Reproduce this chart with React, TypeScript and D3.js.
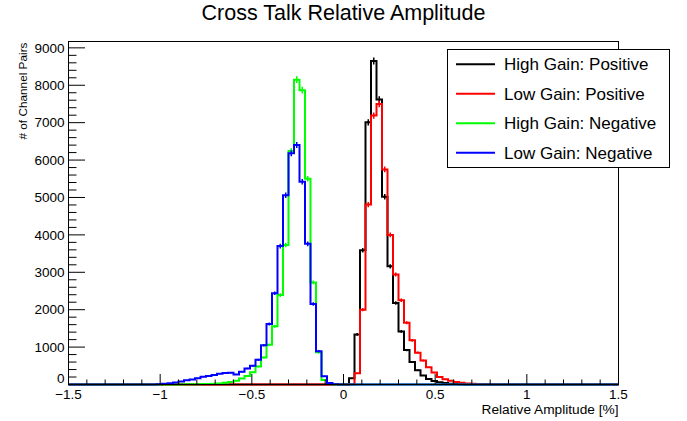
import React from "react";
import * as d3 from "d3";

// Histogram binning: 100 bins from -1.5 to 1.5
const binLow = -1.5;
const binWidth = 0.03;
const nBins = 100;

// Series: first non-empty bin index and bin counts
const hgPosFirst = 51;
const hgPosCounts = [170, 1340, 3590, 7010, 8650, 7620, 5020, 3160, 2180, 1420, 920, 600, 380, 240, 150, 95, 60, 38, 22, 12, 6, 3];

const lgPosFirst = 51;
const lgPosCounts = [10, 300, 2000, 4810, 7190, 7500, 5750, 4000, 2940, 2250, 1650, 1180, 850, 640, 460, 320, 200, 140, 100, 65, 45, 30, 20, 12, 8, 4, 2];

const hgNegFirst = 20;
const hgNegCounts = [3, 5, 8, 10, 12, 15, 20, 30, 45, 70, 100, 160, 230, 330, 480, 720, 1060, 1560, 2390, 3730, 6240, 8150, 7870, 5500, 2730, 860, 120, 20];

const lgNegFirst = 16;
const lgNegCounts = [5, 18, 36, 55, 80, 115, 135, 170, 205, 225, 255, 290, 310, 315, 270, 340, 430, 500, 660, 1050, 1620, 2440, 3700, 5060, 6180, 6400, 5420, 3760, 2150, 890, 220, 40, 5];

const seriesNames = ["High Gain: Positive", "Low Gain: Positive", "High Gain: Negative", "Low Gain: Negative"];
const seriesColors = ["#000000", "#ff0000", "#00ff00", "#0000ff"];
const seriesFirst = [hgPosFirst, lgPosFirst, hgNegFirst, lgNegFirst];
const seriesCounts = [hgPosCounts, lgPosCounts, hgNegCounts, lgNegCounts];

const xMajorTicks = [-1.5, -1, -0.5, 0, 0.5, 1, 1.5];
const yMajorTicks = [0, 1000, 2000, 3000, 4000, 5000, 6000, 7000, 8000, 9000];

const titleText = "Cross Talk Relative Amplitude";
const xTitle = "Relative Amplitude [%]";
const yTitle = "# of Channel Pairs";

const W = 687;
const H = 421;
const frame = { left: 68.5, right: 618.5, top: 41.5, bottom: 384.5 };
const yMax = 9170;
const FONT = "'Liberation Sans', Arial, Helvetica, sans-serif";

function fullCounts(first: number, counts: number[]): number[] {
  const arr = new Array(nBins).fill(0);
  counts.forEach((c, i) => {
    arr[first + i] = c;
  });
  return arr;
}

export default function App() {
  const x = d3.scaleLinear().domain([binLow, binLow + nBins * binWidth]).range([frame.left, frame.right]);
  const y = d3.scaleLinear().domain([0, yMax]).range([frame.bottom, frame.top]);

  const xMinor = d3.range(-15, 16).map((d) => d / 10);
  const yMinor = d3.range(0, 9200, 200);

  const stepPath = (vals: number[]) => {
    let p = `M${x(binLow)},${y(0)}`;
    vals.forEach((c, i) => {
      const lo = binLow + i * binWidth;
      const hi = lo + binWidth;
      p += `L${x(lo)},${y(c)}L${x(hi)},${y(c)}`;
    });
    p += `L${x(binLow + nBins * binWidth)},${y(0)}`;
    return p;
  };

  const fmtX = (d: number) => d3.format("")(d);

  const legendX0 = 447.5;
  const legendX1 = 669.5;
  const legendY0 = 49.5;
  const legendY1 = 167.5;
  const rowH = (legendY1 - legendY0) / 4;

  return (
    <svg width={W} height={H} style={{ position: "absolute", left: 0, top: 0, background: "#fff" }} fontFamily={FONT}>
      <rect x={0} y={0} width={W} height={H} fill="#fff" />
      <defs>
        <clipPath id="frameClip">
          <rect x={frame.left - 1} y={frame.top} width={frame.right - frame.left + 2} height={frame.bottom - frame.top + 2} />
        </clipPath>
      </defs>

      {/* histograms */}
      <g clipPath="url(#frameClip)">
        {seriesCounts.map((counts, si) => {
          const vals = fullCounts(seriesFirst[si], counts);
          return (
            <g key={si}>
              <path d={stepPath(vals)} fill="none" stroke={seriesColors[si]} strokeWidth={2} />
              {vals.map((c, i) => {
                if (c <= 0) return null;
                const cx = x(binLow + (i + 0.5) * binWidth);
                const e = Math.sqrt(c);
                return (
                  <line key={i} x1={cx} x2={cx} y1={y(c - e)} y2={y(c + e)} stroke={seriesColors[si]} strokeWidth={1.5} />
                );
              })}
            </g>
          );
        })}
      </g>

      {/* frame */}
      <rect x={frame.left} y={frame.top} width={frame.right - frame.left} height={frame.bottom - frame.top} fill="none" stroke="#000" strokeWidth={1} />

      {/* x ticks */}
      {xMinor.map((t, i) => {
        const major = Math.abs(t * 2 - Math.round(t * 2)) < 1e-9;
        return (
          <line key={"xm" + i} x1={x(t)} x2={x(t)} y1={frame.bottom} y2={frame.bottom - (major ? 10.5 : 5)} stroke="#000" strokeWidth={1} />
        );
      })}
      {xMajorTicks.map((t, i) => (
        <text key={"xl" + i} x={x(t)} y={frame.bottom + 14} fontSize={13.5} textAnchor="middle">
          {fmtX(t)}
        </text>
      ))}

      {/* y ticks */}
      {yMinor.map((t, i) => {
        const major = t % 1000 === 0;
        return (
          <line key={"ym" + i} x1={frame.left} x2={frame.left + (major ? 16.5 : 8)} y1={y(t)} y2={y(t)} stroke="#000" strokeWidth={1} />
        );
      })}
      {yMajorTicks.map((t, i) => (
        <text key={"yl" + i} x={frame.left - 4} y={y(t) - (t === 0 ? 6.5 : 0)} dy="0.35em" fontSize={13.5} textAnchor="end">
          {t}
        </text>
      ))}

      {/* titles */}
      <text x={343.5} y={20} fontSize={21.5} textAnchor="middle">
        {titleText}
      </text>
      <text x={frame.right} y={414} fontSize={13.7} textAnchor="end">
        {xTitle}
      </text>
      <text transform={`translate(27,${frame.top + 1}) rotate(-90)`} fontSize={11.8} textAnchor="end">
        {yTitle}
      </text>

      {/* legend */}
      <rect x={legendX0} y={legendY0} width={legendX1 - legendX0} height={legendY1 - legendY0} fill="#fff" stroke="#000" strokeWidth={1} />
      {seriesNames.map((name, i) => {
        const cy = legendY0 + (i + 0.5) * rowH;
        return (
          <g key={"lg" + i}>
            <line x1={456} x2={495} y1={cy} y2={cy} stroke={seriesColors[i]} strokeWidth={2} />
            <text x={504} y={cy} dy="0.35em" fontSize={17}>
              {name}
            </text>
          </g>
        );
      })}
    </svg>
  );
}
